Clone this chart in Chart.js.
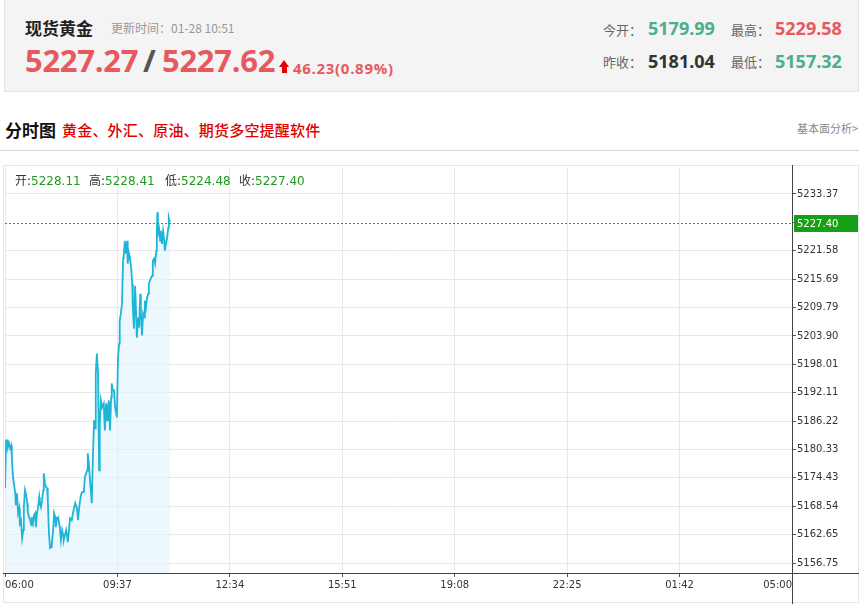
<!DOCTYPE html>
<html><head><meta charset="utf-8">
<script src="https://cdn.jsdelivr.net/npm/chart.js@4.4.1/dist/chart.umd.min.js"></script>
<style>
html,body{margin:0;padding:0;background:#fff;width:859px;height:604px;overflow:hidden;position:relative;font-family:"Noto Sans CJK SC",sans-serif}
.a{position:absolute;white-space:nowrap;line-height:1}
.num{font-family:"Open Sans",sans-serif;font-weight:700}
.lbl{font-size:13px;color:#666}
.info{font-family:"DejaVu Sans","Noto Sans CJK SC",sans-serif;font-size:12px;color:#333}
.info span{color:#1f9a1f}
</style></head><body>
<div class="a" style="left:4px;top:0;width:853px;height:91px;background:#f4f4f4;border:1px solid #e4e4e4;border-top:none"></div>
<div class="a" style="left:25px;top:19px;font-size:17px;font-weight:700;color:#222">现货黄金</div>
<div class="a" style="left:111px;top:22px;font-size:12px;color:#999">更新时间：01-28 10:51</div>
<div class="a num" style="left:25px;top:45px;font-size:31px;color:#e65a5f;letter-spacing:-0.3px">5227.27</div>
<div class="a num" style="left:143px;top:45px;font-size:31px;color:#555">/</div>
<div class="a num" style="left:162px;top:45px;font-size:31px;color:#e65a5f;letter-spacing:-0.3px">5227.62</div>
<div class="a" style="left:279px;top:60px;width:0;height:0;border-left:5.5px solid transparent;border-right:5.5px solid transparent;border-bottom:7px solid #e60000"></div>
<div class="a" style="left:282px;top:66px;width:5px;height:7px;background:#e60000"></div>
<div class="a num" style="left:293px;top:61px;font-size:15px;color:#e65a5f;letter-spacing:0.7px">46.23(0.89%)</div>

<div class="a lbl" style="left:603px;top:23px">今开：</div>
<div class="a num" style="left:648px;top:19px;font-size:18px;color:#4cae8a">5179.99</div>
<div class="a lbl" style="left:731px;top:23px">最高：</div>
<div class="a num" style="left:775px;top:19px;font-size:18px;color:#e65a5f">5229.58</div>
<div class="a lbl" style="left:603px;top:55px">昨收：</div>
<div class="a num" style="left:648px;top:52px;font-size:18px;color:#333">5181.04</div>
<div class="a lbl" style="left:731px;top:55px">最低：</div>
<div class="a num" style="left:775px;top:52px;font-size:18px;color:#4cae8a">5157.32</div>

<div class="a" style="left:5px;top:121px;font-size:17px;font-weight:700;color:#111">分时图</div>
<div class="a" style="left:62px;top:122px;font-size:15px;font-weight:500;color:#e00000;letter-spacing:0.2px">黄金、外汇、原油、期货多空提醒软件</div>
<div class="a" style="right:1px;top:123px;font-size:11px;color:#888">基本面分析&gt;</div>
<div class="a" style="left:0;top:150px;width:859px;height:1px;background:#d6d6d6"></div>

<div class="a" style="left:3px;top:165px;width:854px;height:436px;border:1px solid #e6e6e6"></div>
<canvas id="c" width="859" height="443" style="position:absolute;left:0;top:161px"></canvas>

<div class="a info" style="left:15px;top:175px">开:<span>5228.11</span></div>
<div class="a info" style="left:89px;top:175px">高:<span>5228.41</span></div>
<div class="a info" style="left:165px;top:175px">低:<span>5224.48</span></div>
<div class="a info" style="left:239px;top:175px">收:<span>5227.40</span></div>

<script>
// minutes since 06:00
const minutes = [
  0,2,4,5,7,9,11,12,14,18,
  19,21,23,25,26,28,30,32,33,35,
  37,39,40,42,44,46,47,49,51,53,
  54,56,58,60,61,63,65,67,68,70,
  72,74,75,77,79,81,82,84,86,88,
  89,91,93,96,98,100,102,103,107,109,
  110,112,114,117,119,123,126,128,130,133,
  135,138,140,144,145,147,149,152,154,156,
  158,159,161,163,165,166,168,170,173,175,
  177,179,180,182,184,186,187,189,191,193,
  194,196,198,200,201,203,205,207,208,210,
  212,214,215,217,219,221,223,224,226,228,
  230,231,233,235,237,238,240,242,244,245,
  247,249,251,252,254,256,258,259,261,263,
  265,266,267,268,270,272,273,275,277,279,
  280,282,284,286,287,289
];
const prices = [
  5172.28,5182.22,5182.22,5180.77,5181.60,5180.57,5181.19,5178.70,5174.56,5171.25,
  5168.76,5171.25,5167.11,5168.14,5165.03,5165.66,5161.93,5163.58,5168.35,5171.87,
  5170.83,5169.18,5167.31,5166.28,5165.66,5164.62,5166.28,5165.03,5166.69,5167.11,
  5164.21,5167.11,5168.35,5170.42,5169.18,5168.35,5169.80,5171.87,5175.39,5173.32,
  5172.49,5172.28,5169.80,5162.96,5159.86,5160.06,5160.89,5162.96,5167.11,5166.28,
  5164.21,5166.07,5166.28,5164.21,5161.51,5163.58,5162.55,5161.51,5163.58,5162.13,
  5161.10,5163.58,5166.07,5165.66,5167.11,5169.18,5168.14,5165.66,5168.35,5170.83,
  5171.45,5171.45,5174.56,5176.01,5179.53,5177.46,5173.94,5169.18,5178.70,5186.37,
  5184.71,5196.10,5200.24,5196.10,5176.01,5185.74,5190.51,5189.06,5189.89,5184.29,
  5189.89,5186.37,5189.06,5190.51,5184.29,5191.13,5194.03,5192.58,5192.58,5189.06,
  5188.44,5186.99,5199.41,5202.31,5207.08,5208.53,5210.60,5220.12,5220.54,5223.64,
  5220.95,5223.64,5218.88,5221.16,5220.12,5218.05,5214.74,5209.77,5205.42,5214.32,
  5207.70,5203.55,5207.70,5205.63,5212.67,5209.15,5203.97,5208.53,5207.70,5211.22,
  5209.77,5211.84,5212.67,5214.74,5215.36,5215.98,5216.39,5219.50,5219.92,5218.88,
  5221.57,5225.09,5229.58,5225.09,5226.13,5223.64,5225.71,5223.02,5225.71,5223.64,
  5221.57,5223.02,5224.26,5226.34,5228.41,5227.40
];
const xTickMinutes = [0,197,394,591,788,985,1182,1379];
const xTickLabels = ['06:00','09:37','12:34','15:51','19:08','22:25','01:42','05:00'];
const yTickValues = [5156.75,5162.65,5168.54,5174.43,5180.33,5186.22,5192.11,5198.01,5203.90,5209.79,5215.69,5221.58,5227.48,5233.37];
const lastPrice = 5227.40;
const yMin = 5154.68, yMax = 5238.76;

const tickFont = {family:'DejaVu Sans', size:10};

const axisLines = {
  id:'axisLines',
  afterDraw(chart){
    const {ctx, chartArea:a, width, height} = chart;
    ctx.save();
    const y = Math.round(chart.scales.y.getPixelForValue(lastPrice)) + 0.5;
    ctx.strokeStyle = '#22a522'; ctx.lineWidth = 1; ctx.setLineDash([2,2]);
    ctx.beginPath(); ctx.moveTo(a.left, y); ctx.lineTo(a.right, y); ctx.stroke();
    ctx.setLineDash([]);
    ctx.strokeStyle = '#444';
    ctx.beginPath(); ctx.moveTo(3, Math.round(a.bottom)+0.5); ctx.lineTo(width, Math.round(a.bottom)+0.5); ctx.stroke();
    ctx.beginPath(); ctx.moveTo(Math.round(a.right)+0.5, 4); ctx.lineTo(Math.round(a.right)+0.5, height); ctx.stroke();
    ctx.fillStyle = '#16a016';
    ctx.fillRect(a.right + 2, y - 8.5, width - a.right - 3, 17);
    ctx.fillStyle = '#fff';
    ctx.font = '10px "DejaVu Sans"';
    ctx.textBaseline = 'middle';
    ctx.fillText(lastPrice.toFixed(2), a.right + 5, y + 0.5);
    ctx.restore();
  }
};

new Chart(document.getElementById('c'), {
  type:'line',
  data:{
    datasets:[{
      data: minutes.map((m,i)=>({x:m, y:prices[i]})),
      borderColor:'#1eb5d6',
      borderWidth:1.8,
      backgroundColor:'rgba(224,243,252,0.6)',
      fill:'start',
      pointRadius:0,
      tension:0
    }]
  },
  options:{
    responsive:false, animation:false, devicePixelRatio:1,
    layout:{padding:{left:5, top:0, right:0, bottom:0}},
    plugins:{legend:{display:false}, tooltip:{enabled:false}},
    scales:{
      x:{
        type:'linear', min:0, max:1379, position:'bottom',
        border:{display:false},
        grid:{color:'#e8e8e8', tickColor:'#555', tickLength:4},
        afterBuildTicks:s=>{ s.ticks = xTickMinutes.map(v=>({value:v})); },
        afterFit:s=>{ s.height = 31; },
        ticks:{
          font:tickFont, color:'#333', align:'inner', maxRotation:0, autoSkip:false, padding:2,
          callback:(v)=>{ const i = xTickMinutes.indexOf(v); return i>=0 ? xTickLabels[i] : ''; }
        }
      },
      y:{
        position:'right', min:yMin, max:yMax,
        border:{display:false},
        grid:{
          color:c=> (c.tick && Math.abs(c.tick.value - lastPrice) < 1) ? 'rgba(0,0,0,0)' : '#e8e8e8',
          tickColor:'#555', tickLength:4
        },
        afterBuildTicks:s=>{ s.ticks = yTickValues.map(v=>({value:v})); },
        afterFit:s=>{ s.width = 67; },
        ticks:{font:tickFont, color:'#333', padding:1, callback:v=>v.toFixed(2)}
      }
    }
  },
  plugins:[axisLines]
});
</script>
</body></html>
